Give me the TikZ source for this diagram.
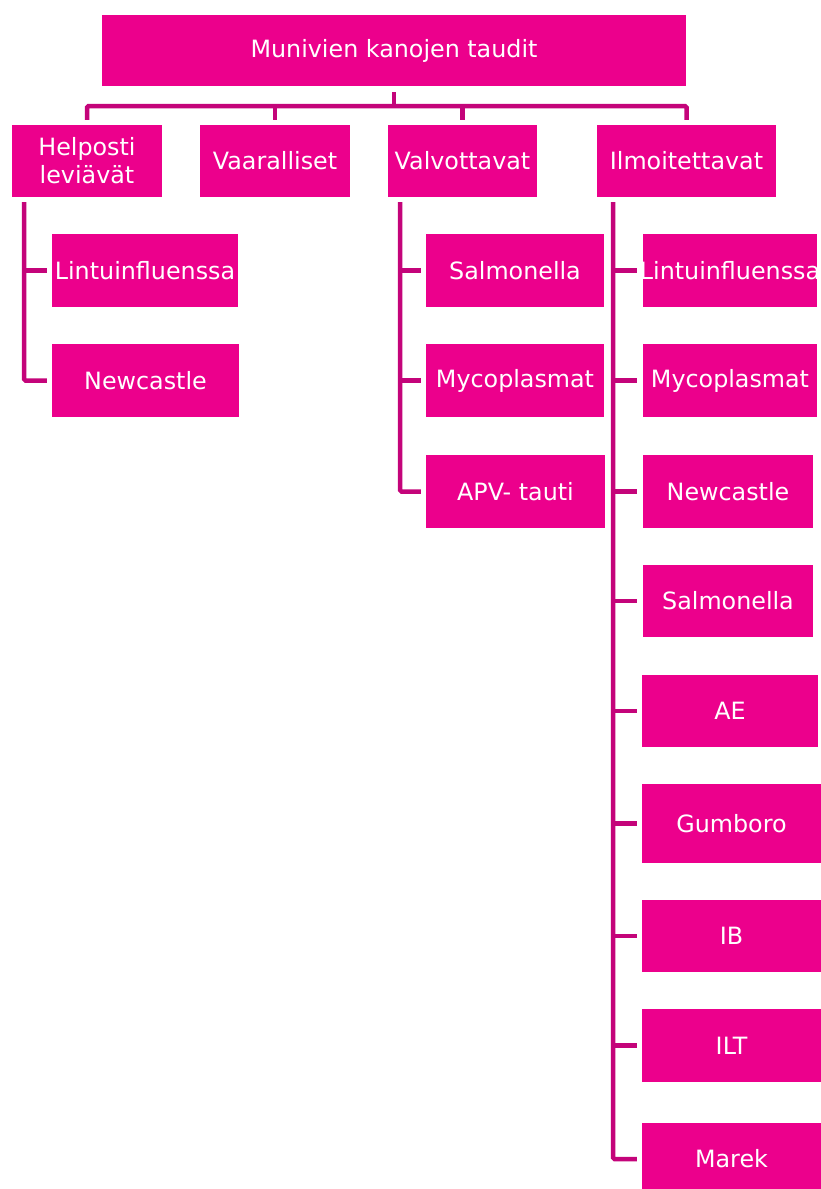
\documentclass[tikz,border=0pt]{standalone}
\usepackage{fontspec}
\setmainfont{DejaVu Sans}
\usepackage{xcolor}
\usetikzlibrary{positioning}
\definecolor{boxfill}{HTML}{EC008C}
\definecolor{linkline}{HTML}{C4047A}
\definecolor{boxtext}{HTML}{FFFFFF}

\tikzset{
  disease/.style={fill=boxfill,text=boxtext,inner sep=0pt,minimum height=72pt,
    font=\fontsize{23.8}{28}\selectfont,align=center},
  link/.style={linkline,line width=4.5pt,rounded corners=1.5pt}
}

\begin{document}
\begin{tikzpicture}[x=1pt,y=-1pt]
    \useasboundingbox (0,0) rectangle (821,1189);

    % Top
    \node[disease,minimum width=584pt,minimum height=71pt] (top) at (394,50.5) {Munivien kanojen taudit};

    % Groups
    \node[disease,minimum width=150pt] (help) at (87,161) {Helposti\\leviävät};
    \node[disease,minimum width=150pt] (vaar) at (275,161) {Vaaralliset};
    \node[disease,minimum width=149pt] (valv) at (462.5,161) {Valvottavat};
    \node[disease,minimum width=179pt] (ilmo) at (686.5,161) {Ilmoitettavat};

    % Helposti leviävät
    \node[disease,minimum width=186pt,minimum height=73pt] (hc1) at (145,270.5) {Lintuinfluenssa};
    \node[disease,minimum width=187pt,minimum height=73pt] (hc2) at (145.5,380.5) {Newcastle};

    % Valvottavat
    \node[disease,minimum width=178pt,minimum height=73pt] (vc1) at (515,270.5) {Salmonella};
    \node[disease,minimum width=178pt,minimum height=73pt] (vc2) at (515,380.5) {Mycoplasmat};
    \node[disease,minimum width=179pt,minimum height=73pt] (vc3) at (515.5,491.5) {APV- tauti};

    % Ilmoitettavat (first label runs over its box)
    \node[disease,minimum width=174pt,minimum height=73pt] (ic1) at (730,270.5) {\makebox[0pt]{Lintuinfluenssa}};
    \node[disease,minimum width=174pt,minimum height=73pt] (ic2) at (730,380.5) {Mycoplasmat};
    \node[disease,minimum width=170pt,minimum height=73pt] (ic3) at (728,491.5) {Newcastle};
    \node[disease,minimum width=170pt] (ic4) at (728,601) {Salmonella};
    \node[disease,minimum width=176pt] (ic5) at (730,711) {AE};
    \node[disease,minimum width=179pt,minimum height=79pt] (ic6) at (731.5,823.5) {Gumboro};
    \node[disease,minimum width=179pt] (ic7) at (731.5,936) {IB};
    \node[disease,minimum width=179pt,minimum height=73pt] (ic8) at (731.5,1045.5) {ILT};
    \node[disease,minimum width=179pt] (ic9) at (731.5,1159) {Marek};

    % Bus under the top box
    \coordinate (bus) at (394,106);
    \draw[link] ([yshift=-6pt]top.south) -- (bus);
    \draw[link] ([yshift=5pt]help.north) |- (bus) -| ([yshift=5pt]ilmo.north);
    \draw[link] ([yshift=5pt]vaar.north) -- (vaar.north |- bus);
    \draw[link] ([yshift=5pt]valv.north) -- (valv.north |- bus);

    % Trunks
    \coordinate (htrunk) at (24,202);
    \coordinate (vtrunk) at (400,202);
    \coordinate (itrunk) at (613,202);

    \draw[link] (htrunk |- hc1) -- ([xshift=-5pt]hc1.west);
    \draw[link] (htrunk) |- ([xshift=-5pt]hc2.west);

    \draw[link] (vtrunk |- vc1) -- ([xshift=-5pt]vc1.west);
    \draw[link] (vtrunk |- vc2) -- ([xshift=-5pt]vc2.west);
    \draw[link] (vtrunk) |- ([xshift=-5pt]vc3.west);

    \draw[link] (itrunk |- ic1) -- ([xshift=-6pt]ic1.west);
    \draw[link] (itrunk |- ic2) -- ([xshift=-6pt]ic2.west);
    \draw[link] (itrunk |- ic3) -- ([xshift=-6pt]ic3.west);
    \draw[link] (itrunk |- ic4) -- ([xshift=-6pt]ic4.west);
    \draw[link] (itrunk |- ic5) -- ([xshift=-5pt]ic5.west);
    \draw[link] (itrunk |- ic6) -- ([xshift=-5pt]ic6.west);
    \draw[link] (itrunk |- ic7) -- ([xshift=-5pt]ic7.west);
    \draw[link] (itrunk |- ic8) -- ([xshift=-5pt]ic8.west);
    \draw[link] (itrunk) |- ([xshift=-5pt]ic9.west);
  \end{tikzpicture}
\end{document}
